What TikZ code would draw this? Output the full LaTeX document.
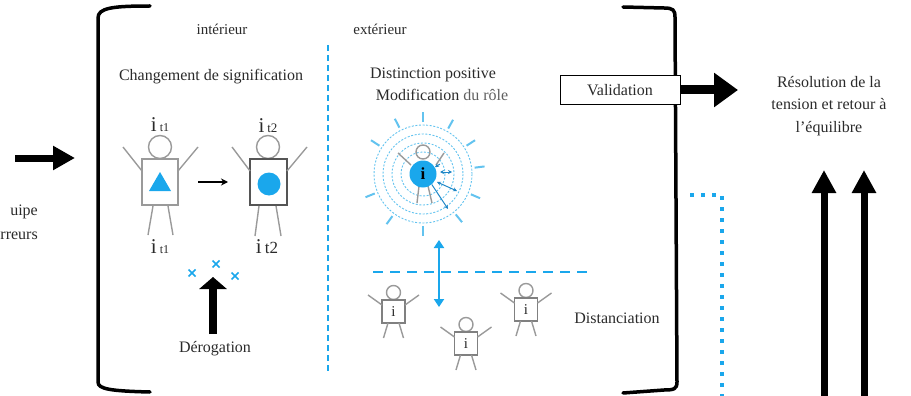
\documentclass[tikz,border=0pt]{standalone}
\usepackage{fontspec}
\setmainfont{Liberation Serif}
\usetikzlibrary{arrows.meta,calc}
\definecolor{sky}{HTML}{1AA7EC}
\definecolor{skylt}{HTML}{63C3EF}
\definecolor{skydk}{HTML}{1E86C6}
\definecolor{figgray}{HTML}{9A9A9A}
\definecolor{ink}{HTML}{2A2A2A}
\tikzset{
  lbl/.style={font=\fontsize{16}{19}\selectfont, text=ink, inner sep=0pt},
  figline/.style={draw=figgray, line width=1.4pt},
  bracketline/.style={draw=black, line width=3.5pt, line cap=round},
  bigarrow/.style={line width=#1, draw=black},
  smallfig/.pic={
    \draw[figline] (0,-19) circle[radius=7];
    \draw[figline, draw=gray] (-11.5,-11.5) rectangle (11.5,11.5);
    \draw[figline] (-11.5,-6.5) -- (-25.5,-16.5);
    \draw[figline] (11.5,-6.5) -- (25.5,-16.5);
    \draw[figline] (-5.5,11.5) -- (-10,26.5);
    \draw[figline] (5.5,11.5) -- (10,26.5);
    \node[font=\fontsize{15}{15}\selectfont, text=ink, inner sep=0pt] (-i) at (0,0.5) {i};
  }
}
\newcommand{\itlabel}[3]{{\fontsize{21}{21}\selectfont #1}\hspace{3pt}{\fontsize{#3}{#3}\selectfont #2}}
\begin{document}
\begin{tikzpicture}[x=1pt,y=-1pt]
\useasboundingbox (0,0) rectangle (911,396);

% incoming arrow and its label
\node[lbl, anchor=east] (teamA) at (38,212) {uipe};
\node[lbl, anchor=east] (teamB) at (38,236) {rreurs};
\coordinate (inS) at (15,158);
\coordinate (inE) at (75,158);
\draw[bigarrow=7pt, -{Triangle[length=22pt,width=23pt]}] (inS) -- (inE);

% brackets
\draw[bracketline] (150,6) .. controls (112,6) and (98,8) .. (98,18) -- (98,382)
  .. controls (98,389) and (110,391) .. (150,392);
\draw[bracketline] (623,7) -- (664,8) .. controls (673,8) and (675,10) .. (675,17)
  -- (677,382) .. controls (677,389) and (674,390) .. (664,390) -- (623,393);

% inner / outer divider
\draw[sky, line width=1.5pt, dash pattern=on 6pt off 4pt] (328,45) -- (328,372);
\node[lbl, font=\fontsize{15}{18}\selectfont] (inner) at (222,29) {intérieur};
\node[lbl, font=\fontsize{15}{18}\selectfont] (outer) at (380,29) {extérieur};

% ---------- change of meaning ----------
\node[lbl] (chg) at (211,77) {Changement de signification};

\node[inner sep=0pt, text=ink] (it1a) at (160,125) {\itlabel{i}{t1}{12}};
\node[inner sep=0pt, text=ink] (it1b) at (160,247) {\itlabel{i}{t1}{12}};
\node[inner sep=0pt, text=ink] (it2a) at (268,126) {\itlabel{i}{t2}{13}};
\node[inner sep=0pt, text=ink] (it2b) at (267,247) {\itlabel{i}{t2}{17}};

% figure before
\draw[figline] (160,147) circle[radius=11.5];
\draw[figline] (142,159) rectangle (178,205);
\draw[figline] (142,171) -- (123,147);
\draw[figline] (178,171) -- (198,147);
\draw[figline] (153,206) -- (148,235);
\draw[figline] (168,206) -- (173,235);
\fill[sky] (149,191) -- (171,191) -- (160,172) -- cycle;

% figure after
\draw[figline] (268,147) circle[radius=11.5];
\draw[line width=1.4pt, draw=ink!80] (250,159) rectangle (287,205);
\draw[figline] (250,171) -- (232,147);
\draw[figline] (287,171) -- (307,147);
\draw[figline] (259,206) -- (255,236);
\draw[figline] (276,206) -- (281,236);
\fill[sky] (269,184) circle[radius=11.5];

\coordinate (chgS) at (198,182);
\coordinate (chgE) at (228,182);
\draw[line width=1.5pt, -{Stealth[length=7pt,width=7pt]}] (chgS) -- (chgE);

% derogation
\foreach \cx/\cy in {192/273, 216/264, 235/276}{
  \draw[sky, line width=1.5pt] (\cx-3.5,\cy-3.5) -- (\cx+3.5,\cy+3.5)
                               (\cx-3.5,\cy+3.5) -- (\cx+3.5,\cy-3.5);
}
\coordinate (derS) at (213,334);
\coordinate (derE) at (213,277);
\draw[bigarrow=8pt, -{Triangle[length=12pt,width=27pt]}] (derS) -- (derE);
\node[lbl] (der) at (215,349) {Dérogation};

% ---------- positive distinction ----------
\node[lbl] (dist) at (433,75) {Distinction positive};
\node[lbl] (modif) at (442,95) {Modification {\color{ink!75}du rôle}};

\coordinate (ctr) at (423,174);
\foreach \r in {22,31,40,49}{
  \draw[skylt, line width=0.9pt, dash pattern=on 2pt off 1.6pt] (ctr) circle[radius=\r];
}
\foreach \a in {90,126,158,-147,-117,-90,-61,-33,-7,23,51}{
  \draw[skylt, line width=2pt] ($(ctr)+(\a:52)$) -- ($(ctr)+(\a:62)$);
}
% figure in the spotlight
\draw[figline] (423,152) circle[radius=7];
\draw[figline] (411,165) -- (398,153);
\draw[figline] (436,165) -- (444,153);
\draw[figline] (419,186) -- (417,203);
\draw[figline] (428,186) -- (432,203);
\node[circle, fill=sky, minimum size=27pt, inner sep=0pt, text=black,
      font=\fontsize{17}{17}\selectfont\bfseries] (star) at (ctr) {i};
\draw[skydk, line width=1pt, {Stealth[length=4pt,width=4pt]}-] (star.30) -- ++(5,-3);
\draw[skydk, line width=1pt, {Stealth[length=4pt,width=4pt]}-{Stealth[length=4pt,width=4pt]}] (440,172) -- (452,172);
\draw[skydk, line width=1pt, {Stealth[length=4pt,width=4pt]}-{Stealth[length=4pt,width=4pt]}] (437,182) -- (457,191);
\draw[skydk, line width=1pt, -{Stealth[length=4pt,width=4pt]}] (star.-50) -- (448,209);

% distancing
\coordinate (sepW) at (373,272);
\coordinate (sepE) at (588,272);
\draw[sky, line width=2pt, dash pattern=on 10pt off 7pt] (sepW) -- (sepE);
\coordinate (distS) at (439,307);
\coordinate (distE) at (439,240);
\draw[sky, line width=2.5pt, {Triangle[length=8pt,width=10pt]}-{Triangle[length=8pt,width=10pt]}] (distS) -- (distE);
\pic (fa) at (393.5,311.5) {smallfig};
\pic (fb) at (466,343.5) {smallfig};
\pic (fc) at (526,309.5) {smallfig};
\node[lbl] (distan) at (617,318) {Distanciation};

% ---------- validation and resolution ----------
\node[draw=black, line width=1pt, fill=white, minimum width=120pt, minimum height=29pt,
      font=\fontsize{16}{19}\selectfont, text=ink] (valid) at (620,90) {Validation};
\coordinate (resArr) at (738,90);
\draw[bigarrow=9pt, -{Triangle[length=24pt,width=33pt]}] (valid.east) -- (resArr);
\node[lbl, align=center, font=\fontsize{16}{22.5}\selectfont] (res) at (829,106)
  {Résolution de la\\tension et retour à\\l’équilibre};

\coordinate (dotA) at (690,195);
\coordinate (dotB) at (722,195);
\coordinate (dotC) at (722,400);
\draw[sky, line width=4pt, dash pattern=on 4pt off 7pt] (dotA) -- (dotB) -- (dotC);

\coordinate (upA0) at (824,400);
\coordinate (upA1) at (824,170);
\coordinate (upB0) at (864,400);
\coordinate (upB1) at (864,170);
\draw[bigarrow=7pt, -{Triangle[length=23pt,width=23pt]}] (upA0) -- (upA1);
\draw[bigarrow=7pt, -{Triangle[length=23pt,width=23pt]}] (upB0) -- (upB1);
\end{tikzpicture}
\end{document}
